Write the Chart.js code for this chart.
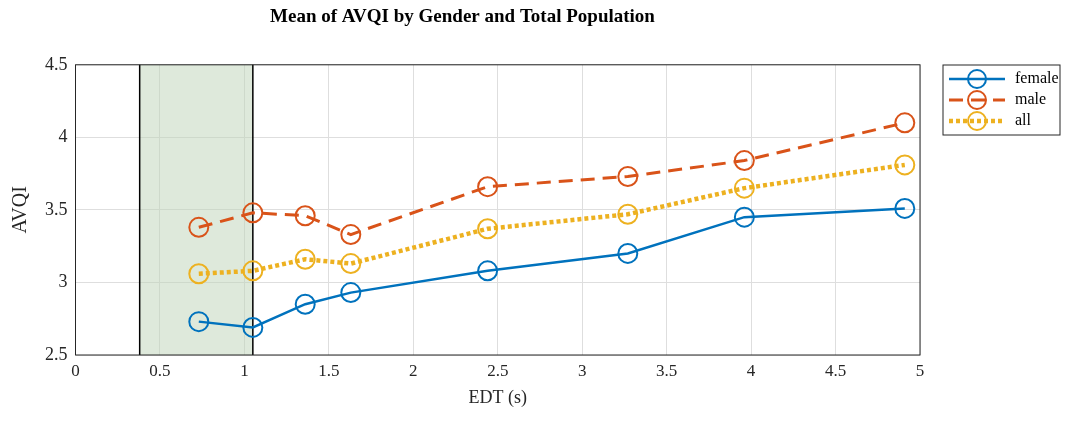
<!DOCTYPE html>
<html><head><meta charset="utf-8">
<script src="https://cdn.jsdelivr.net/npm/chart.js@4"></script>
<style>body{margin:0;background:#fff}#wrap{width:1080px;height:423px}</style>
</head><body><div id="wrap"><canvas id="c"></canvas></div>
<script>
const edt = [0.73, 1.05, 1.36, 1.63, 2.44, 3.27, 3.96, 4.91];
const female = [2.73, 2.69, 2.85, 2.93, 3.08, 3.20, 3.45, 3.51];
const male = [3.38, 3.48, 3.46, 3.33, 3.66, 3.73, 3.84, 4.10];
const all = [3.06, 3.08, 3.16, 3.13, 3.37, 3.47, 3.65, 3.81];
const band = [0.38, 1.05];

const pts = (ys) => ys.map((y, i) => ({ x: edt[i], y }));
function ds(label, ys, color, dash, width) {
  return { label, data: pts(ys), borderColor: color, backgroundColor: "rgba(0,0,0,0)",
    borderWidth: width, borderDash: dash, pointRadius: 9.5, pointBorderWidth: 2,
    pointBorderColor: color, tension: 0 };
}

const bandPlugin = {
  id: "band",
  beforeDatasetsDraw(chart) {
    const { ctx, chartArea: a, scales: { x } } = chart;
    const x0 = x.getPixelForValue(band[0]), x1 = x.getPixelForValue(band[1]);
    ctx.save();
    ctx.fillStyle = "rgba(190,212,184,0.5)";
    ctx.fillRect(x0, a.top, x1 - x0, a.bottom - a.top);
    ctx.strokeStyle = "#000"; ctx.lineWidth = 1.5;
    ctx.beginPath();
    ctx.moveTo(x0, a.top); ctx.lineTo(x0, a.bottom);
    ctx.moveTo(x1, a.top); ctx.lineTo(x1, a.bottom);
    ctx.stroke();
    ctx.restore();
  },
  afterDraw(chart) {
    const { ctx, chartArea: a } = chart;
    ctx.save();
    ctx.strokeStyle = "#262626"; ctx.lineWidth = 1;
    ctx.strokeRect(a.left, a.top, a.right - a.left, a.bottom - a.top);
    // legend
    const lx = 943, ly = 65, w = 117, h = 70;
    ctx.fillStyle = "#fff"; ctx.fillRect(lx, ly, w, h);
    ctx.strokeRect(lx, ly, w, h);
    ctx.font = "16px 'Liberation Serif'"; ctx.textBaseline = "middle";
    chart.data.datasets.forEach((d, i) => {
      const y = ly + 14 + i * 21;
      ctx.strokeStyle = d.borderColor; ctx.lineWidth = d.borderWidth;
      ctx.setLineDash(d.borderDash || []);
      ctx.beginPath(); ctx.moveTo(lx + 6, y); ctx.lineTo(lx + 62, y); ctx.stroke();
      ctx.setLineDash([]); ctx.lineWidth = 2;
      ctx.beginPath(); ctx.arc(lx + 34, y, 9, 0, Math.PI * 2); ctx.stroke();
      ctx.fillStyle = "#000"; ctx.fillText(d.label, lx + 72, y);
    });
    ctx.restore();
  }
};

new Chart(document.getElementById("c"), {
  type: "line",
  data: { datasets: [
    ds("female", female, "#0072BD", [], 2.5),
    ds("male", male, "#D95319", [14, 8], 3),
    ds("all", all, "#EDB120", [4, 3], 4.5)
  ] },
  plugins: [bandPlugin],
  options: {
    responsive: true, maintainAspectRatio: false, animation: false,
    layout: { padding: { right: 160, left: 5, top: 0, bottom: 10 } },
    plugins: {
      legend: { display: false }, tooltip: { enabled: false },
      title: { display: true, text: "Mean of AVQI by Gender and Total Population",
        color: "#000", font: { family: "Liberation Serif", size: 19, weight: "bold" },
        padding: { top: 6, bottom: 36 } }
    },
    scales: {
      x: { type: "linear", min: 0, max: 5,
        ticks: { stepSize: 0.5, color: "#262626", padding: 6, font: { family: "Liberation Serif", size: 17 },
          callback: v => String(v) },
        grid: { color: "#dedede", drawTicks: false }, border: { display: false },
        title: { display: true, text: "EDT (s)", color: "#262626", padding: { top: 0 },
          font: { family: "Liberation Serif", size: 18 } } },
      y: { min: 2.5, max: 4.5,
        ticks: { stepSize: 0.5, color: "#262626", padding: 8, font: { family: "Liberation Serif", size: 18 },
          callback: v => String(v) },
        grid: { color: "#dedede", drawTicks: false }, border: { display: false },
        title: { display: true, text: "AVQI", color: "#262626",
          font: { family: "Liberation Serif", size: 20 } } }
    }
  }
});
</script></body></html>
